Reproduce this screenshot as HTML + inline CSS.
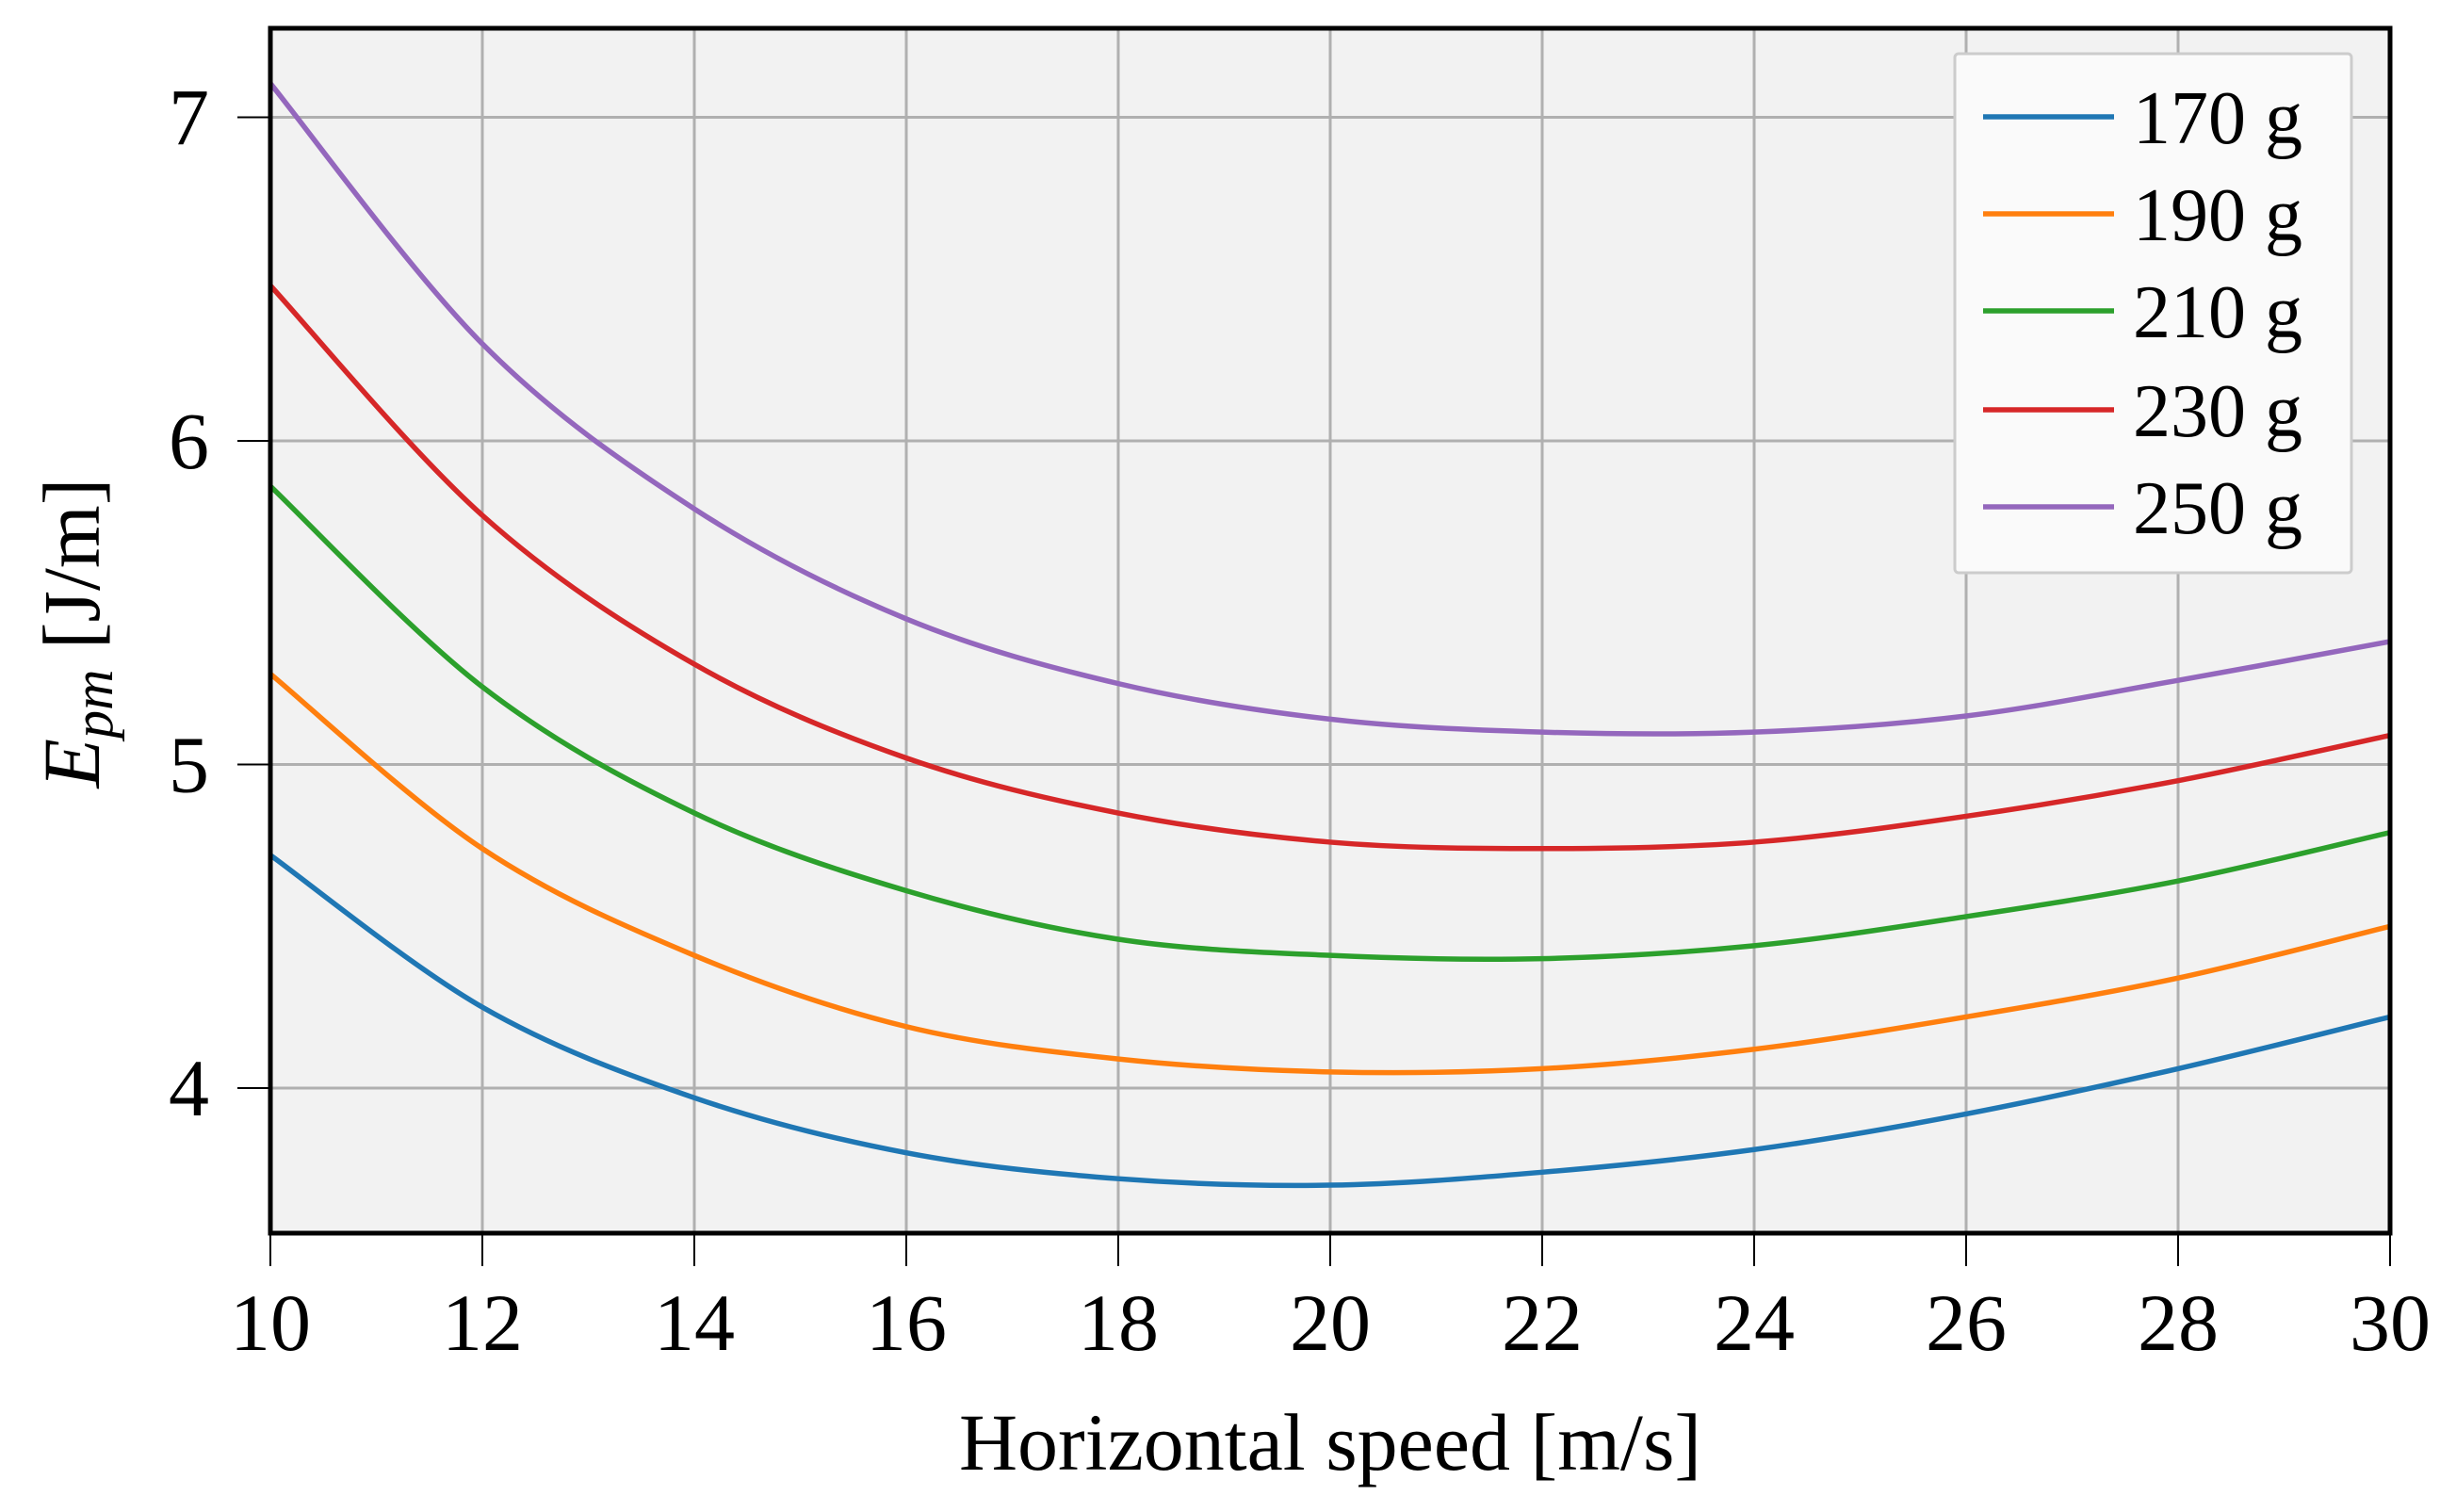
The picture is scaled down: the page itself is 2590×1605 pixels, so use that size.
<!DOCTYPE html>
<html><head><meta charset="utf-8"><style>
html,body{margin:0;padding:0;background:#fff;}
svg{display:block;font-family:"Liberation Serif",serif;}
</style></head><body>
<svg id="chart" width="2590" height="1605" viewBox="0 0 2590 1605" xmlns="http://www.w3.org/2000/svg"></svg>
<script>
const xTicks=[10,12,14,16,18,20,22,24,26,28,30];
const yTicks=[4,5,6,7];
const speeds=[10,12,14,16,18,20,22,24,26,28,30];
const seriesLabels=["170 g","190 g","210 g","230 g","250 g"];
const s170=[4.72,4.25,3.97,3.80,3.72,3.70,3.74,3.81,3.92,4.06,4.22];
const s190=[5.28,4.74,4.41,4.19,4.09,4.05,4.06,4.12,4.22,4.34,4.50];
const s210=[5.86,5.24,4.85,4.61,4.46,4.41,4.40,4.44,4.53,4.64,4.79];
const s230=[6.48,5.77,5.31,5.02,4.85,4.76,4.74,4.76,4.84,4.95,5.09];
const s250=[7.105,6.30,5.79,5.45,5.25,5.14,5.10,5.10,5.15,5.26,5.38];
const colors=["#1f77b4","#ff7f0e","#2ca02c","#d62728","#9467bd"];
const allSeries=[s170,s190,s210,s230,s250];

const L=287,R=2537,T=30,B=1309;
const X=v=>L+(v-10)/20*(R-L);
const Y=v=>1155-(v-4)*343.5;
const svg=document.getElementById('chart');
const NS="http://www.w3.org/2000/svg";
function mk(tag,at,parent){const e=document.createElementNS(NS,tag);for(const k in at)e.setAttribute(k,at[k]);(parent||svg).appendChild(e);return e;}

let bg=mk('rect',{x:L,y:T,width:R-L,height:B-T,fill:'#f2f2f2'});


xTicks.forEach(t=>{
  let g=mk('line',{x1:X(t),x2:X(t),y1:T,y2:B,stroke:'#b0b0b0','stroke-width':3});
  
  
  let tk=mk('line',{x1:X(t),x2:X(t),y1:B,y2:B+35,stroke:'#000','stroke-width':2});
  
  
  let lb=mk('text',{x:X(t),y:1433,'font-size':86,'text-anchor':'middle',fill:'#000'});
  lb.textContent=t;
  
  
});
yTicks.forEach(t=>{
  let g=mk('line',{x1:L,x2:R,y1:Y(t),y2:Y(t),stroke:'#b0b0b0','stroke-width':3});
  
  
  let tk=mk('line',{x1:L-35,x2:L,y1:Y(t),y2:Y(t),stroke:'#000','stroke-width':2});
  
  
  let lb=mk('text',{x:222,y:Y(t)+29,'font-size':86,'text-anchor':'end',fill:'#000'});
  lb.textContent=t;
  
  
});
function pathFor(vals){
  const p=speeds.map((s,i)=>[X(s),Y(vals[i])]);
  let d=`M${p[0][0]},${p[0][1]}`;
  for(let i=0;i<p.length-1;i++){
    const p0=p[Math.max(0,i-1)],p1=p[i],p2=p[i+1],p3=p[Math.min(p.length-1,i+2)];
    const c1=[p1[0]+(p2[0]-p0[0])/6,p1[1]+(p2[1]-p0[1])/6];
    const c2=[p2[0]-(p3[0]-p1[0])/6,p2[1]-(p3[1]-p1[1])/6];
    d+=` C${c1[0]},${c1[1]} ${c2[0]},${c2[1]} ${p2[0]},${p2[1]}`;
  }
  return d;
}
const clip=mk('clipPath',{id:'pc'});mk('rect',{x:L,y:T,width:R-L,height:B-T},clip);
allSeries.forEach((vals,i)=>{
  let pth=mk('path',{d:pathFor(vals),fill:'none',stroke:colors[i],'stroke-width':5.5,'clip-path':'url(#pc)'});
  
  
});
let frame=mk('rect',{x:L,y:T,width:R-L,height:B-T,fill:'none',stroke:'#000','stroke-width':5});



let lg=mk('g',{});


mk('rect',{x:2075,y:57,width:421,height:551,fill:'#fafafa',stroke:'#cccccc','stroke-width':3,rx:4},lg);
const legendY=[124,227,330,435,538];
seriesLabels.forEach((lab,i)=>{
  let e=mk('g',{},lg);
  
  
  mk('line',{x1:2105,x2:2244,y1:legendY[i],y2:legendY[i],stroke:colors[i],'stroke-width':5.5},e);
  let t=mk('text',{x:2264,y:legendY[i]+28,'font-size':80,fill:'#000'},e);
  t.textContent=lab;
});

let xl=mk('text',{x:1412,y:1560,'font-size':86,'text-anchor':'middle',fill:'#000'});
xl.textContent='Horizontal speed [m/s]';


let yl=mk('text',{x:0,y:0,'font-size':86,'text-anchor':'middle',fill:'#000',transform:'translate(105,672) rotate(-90)'});
yl.innerHTML='<tspan font-style="italic">E</tspan><tspan font-style="italic" font-size="60" dy="14">pm</tspan><tspan dy="-14"> [J/m]</tspan>';


</script>
</body></html>
